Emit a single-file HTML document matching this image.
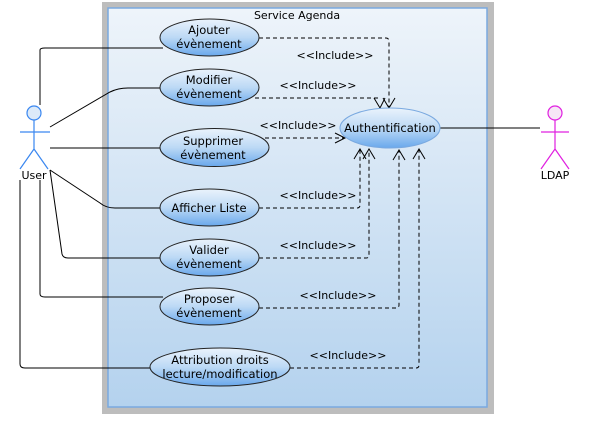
<!DOCTYPE html>
<html><head><meta charset="utf-8"><style>
html,body{margin:0;padding:0;background:#fff;}
svg{display:block;}
text{font-family:"DejaVu Sans","Liberation Sans",sans-serif;font-size:11px;fill:#000;}
.l text{font-size:11.5px;}
</style></head><body>
<svg width="615" height="428" viewBox="0 0 615 428" xmlns="http://www.w3.org/2000/svg">
<defs>
<linearGradient id="bg" x1="0" y1="0" x2="0" y2="1">
<stop offset="0" stop-color="#eef4fa"/><stop offset="1" stop-color="#b4d2ee"/>
</linearGradient>
<linearGradient id="el" x1="0" y1="0" x2="0" y2="1">
<stop offset="0" stop-color="#eaf3fc"/><stop offset="0.5" stop-color="#bcd9f5"/><stop offset="1" stop-color="#6aa8ec"/>
</linearGradient>
</defs>
<rect x="102" y="2" width="392" height="412" fill="#bdbdbd"/>
<rect x="108" y="8" width="379" height="399" fill="url(#bg)" stroke="#7aa9e0" stroke-width="1.5"/>
<text x="297" y="19" text-anchor="middle">Service Agenda</text>

<g stroke="#000" fill="none" stroke-width="1">
<path d="M40,105 V50 Q40,48 45,48 H163"/>
<path d="M50,127 L110,92 Q118,88 128,88 H160"/>
<path d="M50,148 H160"/>
<path d="M50,170 L100,203 Q106,208 115,208 H160"/>
<path d="M50,170 L62,254 Q63,258 68,258 H160"/>
<path d="M40,180 V294 Q40,297 45,297 H163"/>
<path d="M20,180 V364 Q20,368 25,368 H150"/>
<path d="M440,128 H540"/>
</g>

<g stroke="#000" fill="none" stroke-width="1" stroke-dasharray="4,3">
<path d="M259,38 H386 Q389,38 389,42 V108"/>
<path d="M255,98 H380"/>
<path d="M265,138 H345"/>
<path d="M259,208 H357 Q360,208 360,205 V150"/>
<path d="M259,258 H366 Q369,258 369,255 V150"/>
<path d="M259,308 H396 Q399,308 399,305 V150"/>
<path d="M290,368 H416 Q419,368 419,365 V150"/>
</g>
<g stroke="#000" fill="none" stroke-width="1">
<path d="M383,98 L389,108 L395,98"/>
<path d="M374,98 L380,108 L385,98"/>
<path d="M335,133 L345,138 L335,143"/>
<path d="M354,159 L360,149 L366,159"/>
<path d="M363,159 L369,149 L375,159"/>
<path d="M393,160 L399,150 L405,160"/>
<path d="M413,159 L419,149 L425,159"/>
</g>

<g>
<text x="335" y="59" text-anchor="middle">&lt;&lt;Include&gt;&gt;</text>
<text x="318" y="89" text-anchor="middle">&lt;&lt;Include&gt;&gt;</text>
<text x="298" y="129" text-anchor="middle">&lt;&lt;Include&gt;&gt;</text>
<text x="318" y="199" text-anchor="middle">&lt;&lt;Include&gt;&gt;</text>
<text x="318" y="249" text-anchor="middle">&lt;&lt;Include&gt;&gt;</text>
<text x="338" y="299" text-anchor="middle">&lt;&lt;Include&gt;&gt;</text>
<text x="348" y="359" text-anchor="middle">&lt;&lt;Include&gt;&gt;</text>
</g>

<g stroke="#222" stroke-width="1" fill="url(#el)">
<ellipse cx="209.5" cy="37.5" rx="49.5" ry="18.5"/>
<ellipse cx="209.5" cy="87.5" rx="49.5" ry="18.5"/>
<ellipse cx="214.5" cy="147.5" rx="54.5" ry="19"/>
<ellipse cx="209.5" cy="207.5" rx="49.5" ry="18.5"/>
<ellipse cx="209.5" cy="257.5" rx="49.5" ry="18.5"/>
<ellipse cx="209.5" cy="306.5" rx="49.5" ry="18.5"/>
<ellipse cx="220" cy="367" rx="70" ry="19"/>
</g>
<ellipse cx="390" cy="128" rx="50" ry="20" fill="url(#el)" stroke="#7aa9e0" stroke-width="1"/>
<text x="390" y="132" text-anchor="middle" style="font-size:11.5px">Authentification</text>

<g text-anchor="middle" class="l">
<text x="209" y="34">Ajouter</text><text x="209" y="48">évènement</text>
<text x="209" y="84">Modifier</text><text x="209" y="98">évènement</text>
<text x="213" y="145">Supprimer</text><text x="213" y="159">évènement</text>
<text x="209" y="212">Afficher Liste</text>
<text x="209" y="254">Valider</text><text x="209" y="268">évènement</text>
<text x="209" y="303">Proposer</text><text x="209" y="317">évènement</text>
<text x="220" y="364">Attribution droits</text><text x="220" y="378">lecture/modification</text>
</g>

<g stroke="#3a87f0" stroke-width="1.2" fill="none">
<circle cx="34" cy="113" r="7" fill="#dceaf9"/>
<path d="M34,120 V149 M20,132 H50 M34,149 L20,169 M34,149 L48,169"/>
</g>
<text x="34" y="179" text-anchor="middle">User</text>
<g stroke="#e020e0" stroke-width="1.2" fill="none">
<circle cx="555" cy="113" r="7" fill="#f6e6f6"/>
<path d="M555,120 V149 M541,132 H569 M555,149 L541,169 M555,149 L569,169"/>
</g>
<text x="555" y="179" text-anchor="middle">LDAP</text>
</svg>
</body></html>
